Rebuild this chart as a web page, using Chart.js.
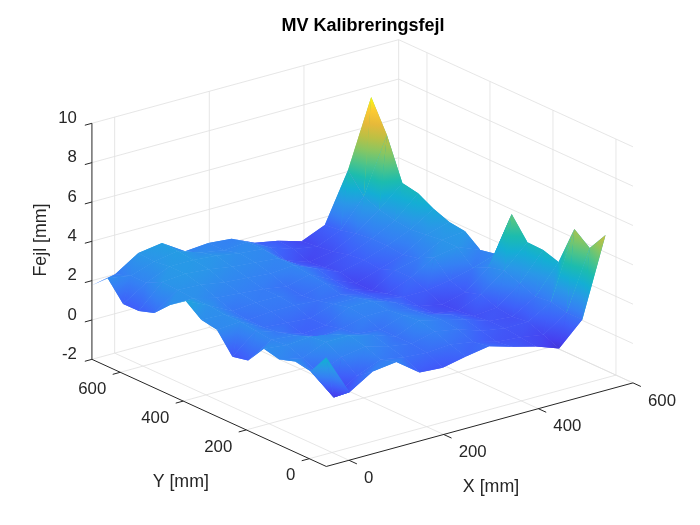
<!DOCTYPE html>
<html>
<head>
<meta charset="utf-8">
<title>MV Kalibreringsfejl</title>
<script src="https://cdn.jsdelivr.net/npm/chart.js@4"></script>
<style>
    html, body { margin: 0; padding: 0; background: #ffffff; }
    #wrap { width: 700px; height: 525px; }
</style>
</head>
<body>
<div id="wrap"><canvas id="surfChart" width="700" height="525"></canvas></div>
<script>
// Maalepunkter paa pladen [mm]
const surfX = [-48, 1, 50, 100, 149, 198, 247, 296, 345, 395, 444, 493, 542];
const surfY = [-54, -4, 45, 95, 144, 194, 244, 293, 343, 392, 442, 492, 541, 591, 640, 690];

// Fejl [mm], en raekke per surfX, en kolonne per surfY (aflaest fra figuren)
const surfZ = [
    [3.55, 2.47, 2.61, 2.35, 2.54, 1.57, 1.40, 2.41, 2.55, 3.15, 2.58, 1.81, 1.55, 1.54, 2.49, 1.77],
    [1.45, 0.82, 1.70, 2.10, 2.40, 2.30, 2.40, 2.50, 2.50, 2.60, 2.60, 2.65, 2.70, 2.30, 2.30, 2.01],
    [2.19, 1.60, 2.20, 2.60, 2.50, 2.20, 2.00, 1.90, 1.90, 2.00, 2.30, 2.60, 2.80, 2.80, 2.70, 2.76],
    [2.34, 2.10, 2.40, 2.60, 2.30, 1.80, 1.60, 1.80, 2.00, 2.10, 2.20, 2.40, 2.70, 2.80, 2.90, 2.94],
    [1.49, 1.90, 2.10, 2.30, 2.00, 1.90, 1.70, 1.70, 2.00, 2.10, 2.10, 2.30, 2.50, 2.70, 2.50, 2.20],
    [1.40, 1.80, 1.90, 1.90, 1.90, 2.20, 2.30, 2.10, 1.90, 1.80, 1.90, 2.20, 2.40, 2.50, 2.30, 2.30],
    [1.66, 1.90, 2.20, 2.40, 2.30, 2.20, 2.30, 2.10, 1.90, 2.10, 2.20, 2.30, 2.30, 2.40, 2.40, 2.20],
    [1.85, 1.70, 2.00, 2.10, 2.00, 1.90, 1.90, 1.70, 1.60, 1.50, 1.60, 1.80, 1.60, 1.50, 1.80, 1.67],
    [1.51, 1.40, 1.60, 1.80, 1.70, 1.40, 1.40, 1.50, 1.30, 1.10, 1.10, 1.30, 1.20, 1.10, 1.40, 1.45],
    [1.20, 1.30, 1.40, 1.40, 1.30, 1.20, 1.15, 1.50, 1.80, 1.80, 1.50, 1.60, 1.50, 1.30, 1.20, 1.10],
    [0.77, 1.10, 1.40, 1.30, 1.40, 1.70, 1.45, 1.70, 2.50, 2.10, 1.90, 2.00, 2.00, 1.90, 1.70, 1.60],
    [1.92, 1.90, 2.10, 2.00, 2.30, 2.60, 2.40, 2.00, 2.70, 2.70, 2.60, 2.50, 2.60, 2.80, 3.10, 4.07],
    [5.90, 4.87, 5.48, 3.43, 3.68, 3.72, 4.78, 2.39, 2.23, 2.83, 2.93, 3.23, 3.67, 3.82, 5.90, 7.47]
];

const xTicks = [0, 200, 400, 600];
const yTicks = [0, 200, 400, 600];
const zTicks = [-2, 0, 2, 4, 6, 8, 10];
const xLimits = [-48, 600];
const yLimits = [-54, 690];
const zLimits = [-2, 10];
const colorLimits = [0.4, 7.47];

// parula
const parulaStops = ['#3e26a8', '#4640ef', '#3f60fa', '#3580f4', '#2a97e8', '#14aed4', '#1cbcae',
    '#4fc488', '#88c662', '#bcc044', '#e6b93a', '#fcca31', '#f8fa0d'];

// Fast 3D-visning: lodret akse og to vandrette retninger -> plan (u, v)
function project(x, y, z) {
    return {
        x: 332 + 0.4733 * x - 0.315 * y,
        y: 72.5 + 0.129 * x + 0.144 * y + 19.67 * (z + 2)
    };
}

function parulaAt(f) {
    const t = Math.min(1, Math.max(0, f)) * (parulaStops.length - 1);
    const k = Math.min(parulaStops.length - 2, Math.floor(t));
    const a = parulaStops[k], b = parulaStops[k + 1];
    const c = [1, 3, 5].map(function (p) {
        const ca = parseInt(a.substr(p, 2), 16), cb = parseInt(b.substr(p, 2), 16);
        return Math.round(ca + (cb - ca) * (t - k));
    });
    return 'rgb(' + c.join(',') + ')';
}

function flatColor(corners) {
    let sum = 0;
    corners.forEach(function (q) { sum += q[2]; });
    return parulaAt((sum / corners.length - colorLimits[0]) / (colorLimits[1] - colorLimits[0]));
}

// Farve efter hoejde: lineaer gradient i trekantens plan
function triangleFill(chart, tri) {
    const sx = chart.scales.x, sy = chart.scales.y;
    const flat = flatColor(tri);
    const p = tri.map(function (q) {
        const pt = project(q[0], q[1], q[2]);
        return [sx.getPixelForValue(pt.x), sy.getPixelForValue(pt.y), q[2]];
    });
    const ax = p[1][0] - p[0][0], ay = p[1][1] - p[0][1], az = p[1][2] - p[0][2];
    const bx = p[2][0] - p[0][0], by = p[2][1] - p[0][1], bz = p[2][2] - p[0][2];
    const det = ax * by - ay * bx;
    if (!isFinite(det) || Math.abs(det) < 0.5) return flat;
    const gx = (az * by - ay * bz) / det;
    const gy = (ax * bz - az * bx) / det;
    const g2 = gx * gx + gy * gy;
    if (g2 < 1e-7) return flat;
    const s0 = (colorLimits[0] - p[0][2]) / g2, s1 = (colorLimits[1] - p[0][2]) / g2;
    const grad = chart.ctx.createLinearGradient(p[0][0] + gx * s0, p[0][1] + gy * s0, p[0][0] + gx * s1, p[0][1] + gy * s1);
    parulaStops.forEach(function (c, k) {
        grad.addColorStop(k / (parulaStops.length - 1), c);
    });
    return grad;
}

function lineSet(points, color, width) {
    return {
        type: 'scatter',
        showLine: true,
        data: points.map(function (q) { return project(q[0], q[1], q[2]); }),
        borderColor: color,
        borderWidth: width,
        pointRadius: 0,
        fill: false
    };
}

function shapeSet(corners, color) {
    return {
        type: 'scatter',
        showLine: true,
        data: corners.concat([corners[0]]).map(function (q) { return project(q[0], q[1], q[2]); }),
        backgroundColor: color,
        borderColor: 'rgba(0,0,0,0)',
        borderWidth: 0,
        pointRadius: 0,
        fill: 'shape'
    };
}

function triangleSet(tri) {
    return shapeSet(tri, function (ctx) { return triangleFill(ctx.chart, tri); });
}

// Tegnes bagfra og frem
const drawList = [];
const gridColor = '#e0e0e0';
const axisColor = '#262626';
const [x0, x1] = xLimits, [y0, y1] = yLimits, [z0, z1] = zLimits;

xTicks.forEach(function (x) {
    drawList.push(lineSet([[x, y0, z0], [x, y1, z0], [x, y1, z1]], gridColor, 0.8));
});
yTicks.forEach(function (y) {
    drawList.push(lineSet([[x0, y, z0], [x1, y, z0], [x1, y, z1]], gridColor, 0.8));
});
zTicks.forEach(function (z) {
    drawList.push(lineSet([[x0, y1, z], [x1, y1, z], [x1, y0, z]], gridColor, 0.8));
});

drawList.push(lineSet([[x0, y0, z0], [x1, y0, z0]], axisColor, 1));
drawList.push(lineSet([[x0, y0, z0], [x0, y1, z0]], axisColor, 1));
drawList.push(lineSet([[x0, y1, z0], [x0, y1, z1]], axisColor, 1));
xTicks.forEach(function (x) {
    drawList.push(lineSet([[x, y0, z0], [x, y0 - 25, z0]], axisColor, 1));
});
yTicks.forEach(function (y) {
    drawList.push(lineSet([[x0, y, z0], [x0 - 16, y, z0]], axisColor, 1));
});
zTicks.forEach(function (z) {
    drawList.push(lineSet([[x0, y1, z], [x0 - 15, y1, z]], axisColor, 1));
});

for (let i = surfX.length - 2; i >= 0; i--) {
    for (let j = surfY.length - 2; j >= 0; j--) {
        const a = [surfX[i], surfY[j], surfZ[i][j]];
        const b = [surfX[i + 1], surfY[j], surfZ[i + 1][j]];
        const c = [surfX[i + 1], surfY[j + 1], surfZ[i + 1][j + 1]];
        const d = [surfX[i], surfY[j + 1], surfZ[i][j + 1]];
        // flad celle bagved, saa trekanternes kanter ikke lyser hvidt igennem
        drawList.push(shapeSet([a, b, c, d], flatColor([a, b, c, d])));
        drawList.push(triangleSet([a, c, d]));
        drawList.push(triangleSet([a, b, c]));
    }
}

// Akseteksterne tegnes paa de samme skalaer
const axisText = {
    id: 'axisText',
    afterDraw: function (chart) {
        const ctx = chart.ctx, sx = chart.scales.x, sy = chart.scales.y;
        function px(x, y, z) {
            const pt = project(x, y, z);
            return [sx.getPixelForValue(pt.x), sy.getPixelForValue(pt.y)];
        }
        ctx.save();
        ctx.fillStyle = axisColor;
        ctx.font = '16.8px "Liberation Sans"';
        ctx.textBaseline = 'middle';
        ctx.textAlign = 'left';
        xTicks.forEach(function (x) {
            const p = px(x, y0, z0);
            ctx.fillText(String(x), p[0] + 15, p[1] + 18);
        });
        ctx.textAlign = 'right';
        yTicks.forEach(function (y) {
            const p = px(x0, y, z0);
            ctx.fillText(String(y), p[0] - 14, p[1] + 17);
        });
        zTicks.forEach(function (z) {
            const p = px(x0, y1, z);
            ctx.fillText(String(z), p[0] - 15, p[1] - 5);
        });
        ctx.textAlign = 'center';
        ctx.font = '17.8px "Liberation Sans"';
        let p = px(300, y0, z0);
        ctx.fillText('X [mm]', p[0], p[1] + 66);
        p = px(x0, 300, z0);
        ctx.fillText('Y [mm]', p[0] - 34, p[1] + 67);
        ctx.translate(41.5, 240);
        ctx.rotate(-Math.PI / 2);
        ctx.fillText('Fejl [mm]', 0, 0);
        ctx.restore();
    }
};

document.addEventListener('DOMContentLoaded', function () {
    new Chart(document.getElementById('surfChart').getContext('2d'), {
        type: 'scatter',
        data: { datasets: drawList.slice().reverse() },
        plugins: [axisText],
        options: {
            responsive: false,
            animation: false,
            events: [],
            layout: { padding: { left: 26 } },
            scales: {
                x: { type: 'linear', min: 26, max: 700, display: false },
                y: { type: 'linear', min: 0, max: 488.4, display: false }
            },
            plugins: {
                legend: { display: false },
                tooltip: { enabled: false },
                title: {
                    display: true,
                    text: 'MV Kalibreringsfejl',
                    color: '#000000',
                    font: { family: '"Liberation Sans"', size: 18, weight: 'bold', lineHeight: 1.2 },
                    padding: { top: 15, bottom: 0 }
                }
            }
        }
    });
});
</script>
</body>
</html>
